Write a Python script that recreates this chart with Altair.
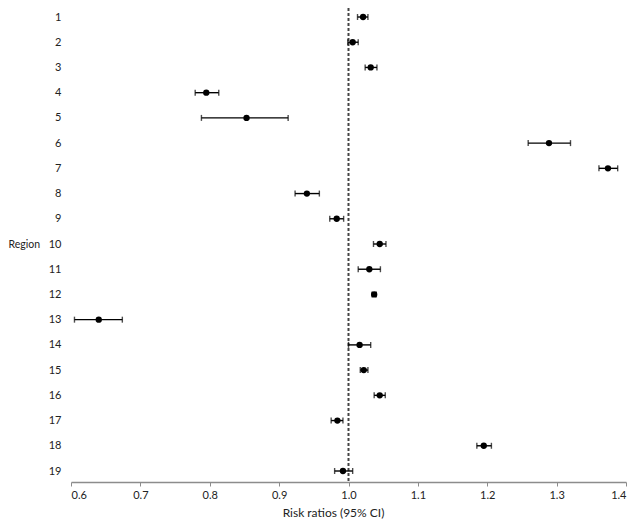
import altair as alt
import pandas as pd

regions = list(range(1, 20))
rr = [1.021, 1.006, 1.032, 0.795, 0.853, 1.289, 1.374, 0.940, 0.983, 1.045,
      1.030, 1.037, 0.640, 1.016, 1.022, 1.045, 0.984, 1.195, 0.992]
lo = [1.013, 0.999, 1.024, 0.779, 0.788, 1.259, 1.361, 0.923, 0.973, 1.036,
      1.014, 1.034, 0.605, 1.000, 1.017, 1.037, 0.975, 1.185, 0.980]
hi = [1.028, 1.014, 1.041, 0.813, 0.913, 1.320, 1.388, 0.958, 0.993, 1.054,
      1.046, 1.040, 0.674, 1.032, 1.028, 1.053, 0.992, 1.206, 1.006]
x_ticks = [0.6, 0.7, 0.8, 0.9, 1.0, 1.1, 1.2, 1.3, 1.4]

df = pd.DataFrame({"region": regions, "rr": rr, "lo": lo, "hi": hi})

FONT = "Lato"
W, H = 555, 474

xscale = alt.Scale(domain=[0.6, 1.4], nice=False, zero=False)
yscale = alt.Scale(domain=[0.643, 19.436], reverse=True, nice=False, zero=False)

yaxis = alt.Axis(values=regions, format="d", title="Region", grid=False,
                 domain=False, ticks=False, labelPadding=10,
                 labelOverlap=False, titleFontSize=10.5,
                 titleAngle=0, titleAlign="left", titleBaseline="middle",
                 titleX=-63, titleY=236)
xaxis = alt.Axis(values=x_ticks, format=".1f", title="Risk ratios (95% CI)",
                 grid=False, domainColor="#8c8c8c", domainWidth=1.5,
                 tickColor="#8c8c8c", tickSize=4, tickWidth=1,
                 labelPadding=3, titlePadding=7, titleFontSize=12,
                 titleX=262, titleAlign="center")

base = alt.Chart(df)

ref = alt.Chart(pd.DataFrame({"v": [1.0]})).mark_rule(
    color="#444444", strokeDash=[3, 2], strokeWidth=2
).encode(x=alt.X("v:Q", scale=xscale, axis=xaxis))

err = base.mark_errorbar(ticks=True, size=6, thickness=1.4, color="black").encode(
    x=alt.X("lo:Q", scale=xscale, axis=xaxis),
    x2="hi:Q",
    y=alt.Y("region:Q", scale=yscale, axis=yaxis),
)

pts = base.mark_circle(size=40, color="black", opacity=1).encode(
    x=alt.X("rr:Q", scale=xscale, axis=xaxis),
    y=alt.Y("region:Q", scale=yscale, axis=yaxis),
)

chart = alt.layer(ref, err, pts).properties(
    width=W, height=H,
    autosize=alt.AutoSizeParams(type="none"),
    padding={"left": 63, "top": 0, "right": 7, "bottom": 39},
).configure_view(stroke=None).configure_axis(
    labelFont=FONT, titleFont=FONT, labelFontSize=11,
    labelColor="#222222", titleColor="#222222", titleFontWeight="normal"
).configure_axisY(labelOverlap=False)

chart.save("out.html", embed_options={"renderer": "svg", "actions": False})
